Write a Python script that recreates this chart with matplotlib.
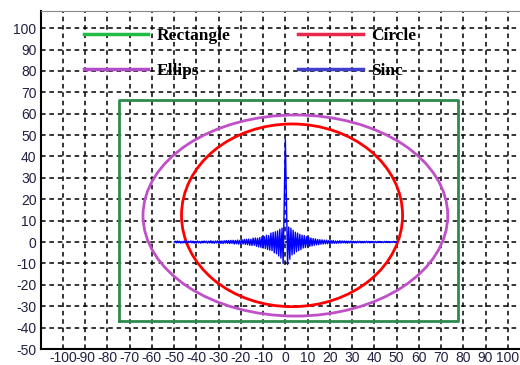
import numpy as np
import matplotlib
matplotlib.use('Agg')
import matplotlib.pyplot as plt
from matplotlib.patches import Ellipse
from matplotlib.lines import Line2D

plt.rcParams['axes.unicode_minus'] = False
plt.rcParams['font.family'] = ['Liberation Sans', 'DejaVu Sans']

# rectangle corners (x range, y range)
rect_x = [-75, 77.5]
rect_y = [-37, 66.5]

# "circle": centre and radii
circle_c = (3, 12.5)
circle_r = (49.7, 42.7)

# ellipse
ellips_c = (4.5, 12.4)
ellips_r = (68.5, 47.0)

# sinc, sampled every 0.5 from -50 to 50
sinc_x = np.arange(-50, 50.01, 0.5)
sinc_y = [
    0.0, 0.4, -0.4, 0.5, -0.3, 0.4, -0.5, 0.3, -0.4, 0.5,
    -0.4, 0.4, -0.5, 0.4, -0.3, 0.5, -0.4, 0.4, -0.5, 0.3,
    -0.4, 0.5, -0.4, 0.3, -0.5, 0.4, -0.4, 0.5, -0.3, 0.4,
    -0.5, 0.4, -0.4, 0.6, -0.5, 0.4, -0.6, 0.5, -0.4, 0.6,
    -0.5, 0.6, -0.6, 0.5, -0.7, 0.6, -0.5, 0.7, -0.6, 0.7,
    -0.7, 0.8, -0.6, 0.8, -0.9, 0.7, -0.8, 0.9, -1.0, 0.8,
    -1.0, 1.1, -0.9, 1.2, -1.1, 1.3, -1.2, 1.4, -1.5, 1.3,
    -1.6, 1.8, -1.5, 1.9, -2.0, 1.8, -2.3, 2.1, -2.5, 2.6,
    -2.8, 2.5, -3.0, 3.2, -3.5, 3.0, -3.8, 4.2, -4.0, 4.5,
    -5.0, 4.8, -5.5, 5.2, -6.5, 6.0, -7.5, 6.5, -10.0, 20.0,
    48.0,
    20.0, -10.5, 7.0, -8.0, 6.5, -6.0, 5.5, -5.5, 4.6, -4.5,
    4.2, -4.0, 3.6, -3.5, 3.2, -2.8, 3.0, -2.6, 2.5, -2.2,
    2.2, -2.0, 1.9, -1.8, 1.6, -1.5, 1.5, -1.3, 1.2, -1.2,
    1.1, -1.0, 1.0, -0.9, 0.9, -0.8, 0.9, -0.8, 0.7, -0.7,
    0.7, -0.6, 0.7, -0.6, 0.5, -0.6, 0.5, -0.5, 0.6, -0.5,
    0.5, -0.4, 0.5, -0.5, 0.4, -0.5, 0.4, -0.4, 0.5, -0.4,
    0.4, -0.4, 0.3, -0.4, 0.4, -0.3, 0.4, -0.4, 0.3, -0.4,
    0.3, -0.3, 0.4, -0.3, 0.3, -0.4, 0.3, -0.3, 0.3, -0.3,
    0.3, -0.3, 0.3, -0.2, 0.3, -0.3, 0.2, -0.3, 0.3, -0.2,
    0.3, -0.2, 0.2, -0.3, 0.2, -0.2, 0.3, -0.2, 0.2, 0.0,
]

xticks = list(range(-100, 101, 10))
yticks = list(range(-50, 101, 10))
labels = ['Rectangle', 'Circle', 'Ellips', 'Sinc']
legend_colors = ['#22bb44', '#e8274a', '#b04cc8', '#4040cc']

fig = plt.figure(figsize=(5.2, 3.65), dpi=100)
ax = fig.add_axes([0.0783, 0.0438, 0.9217, 0.926])

ax.plot([rect_x[0], rect_x[1], rect_x[1], rect_x[0], rect_x[0]],
        [rect_y[0], rect_y[0], rect_y[1], rect_y[1], rect_y[0]],
        color='#2e8b4e', lw=2, zorder=3)
ax.add_patch(Ellipse(ellips_c, 2 * ellips_r[0], 2 * ellips_r[1], fill=False,
                     edgecolor='#c050c8', lw=2, zorder=3))
ax.add_patch(Ellipse(circle_c, 2 * circle_r[0], 2 * circle_r[1], fill=False,
                     edgecolor='#ff0000', lw=2, zorder=3))
ax.plot(sinc_x, sinc_y, color='#0000ff', lw=1, zorder=4)

ax.set_xlim(-110, 105.5)
ax.set_ylim(-50, 108)
ax.set_xticks(xticks)
ax.set_yticks(yticks)
ax.tick_params(length=0, labelsize=10, labelcolor='#202040')
ax.tick_params(axis='x', pad=1.2)
ax.tick_params(axis='y', pad=3)
ax.grid(True, color='black', linestyle=(0, (3, 2.5)), lw=1.1)
ax.spines['right'].set_visible(False)
ax.spines['top'].set_color('#888888')
for s in ['left', 'bottom']:
    ax.spines[s].set_linewidth(1.5)

handles = [Line2D([], [], color=c, lw=2.5) for c in legend_colors]
# order so that ncol=2 fills Rectangle/Ellips in column 1, Circle/Sinc in column 2
order = [0, 2, 1, 3]
ax.legend([handles[i] for i in order], [labels[i] for i in order], ncol=2,
          loc='upper left', bbox_to_anchor=(0.0757, 0.970), borderaxespad=0,
          frameon=False, handlelength=3.7, handletextpad=0.5,
          labelspacing=1.08, columnspacing=3.9,
          prop={'family': 'Liberation Serif', 'weight': 'bold', 'size': 12.5})

fig.savefig('out.png', dpi=100)
